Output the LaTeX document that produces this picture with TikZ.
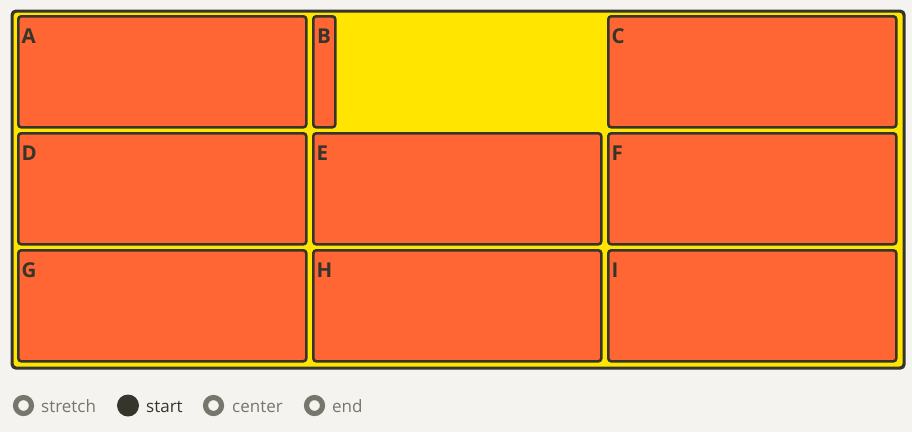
\documentclass[tikz,border=0pt]{standalone}
\usepackage{fontspec}
\setmainfont{Open Sans}
\usetikzlibrary{positioning}
\definecolor{page}{HTML}{F4F3EF}
\definecolor{gridbg}{HTML}{FFE500}
\definecolor{item}{HTML}{FF6633}
\definecolor{ink}{HTML}{36352B}
\definecolor{muted}{HTML}{77766C}

\begin{document}
\begin{tikzpicture}[x=1pt,y=-1pt,
  cell/.style={rectangle,draw=ink,fill=item,line width=2.6pt,rounded corners=3pt,
    inner sep=0pt,anchor=north west,minimum width=288pt,minimum height=111pt},
  letter/.style={font=\bfseries\fontsize{20.5}{24}\selectfont,text=ink,inner sep=0pt,anchor=base west},
  radio/.style={circle,draw=muted,line width=5.2pt,inner sep=0pt,minimum size=16pt},
  picked/.style={circle,fill=ink,inner sep=0pt,minimum size=22pt},
  choice/.style={font=\fontsize{17}{20}\selectfont,text=muted,inner sep=0pt,anchor=base west}]
  \fill[page] (0,0) rectangle (912,432);
  \useasboundingbox (0,0) rectangle (912,432);

  % grid container
  \node[rectangle,draw=ink,fill=gridbg,line width=3.2pt,rounded corners=4pt,inner sep=0pt,
    anchor=north west,minimum width=892pt,minimum height=357pt] (grid) at (10.5,9.5) {};

  % items
  \foreach \name/\x/\y in {A/17/15,C/607/15,D/17/132,E/312/132,F/607/132,G/17/249,H/312/249,I/607/249} {
    \node[cell] (\name) at (\x,\y) {};
    \node[letter] at ([xshift=4.5pt,yshift=-28pt]\name.north west) {\name};
  }
  \node[cell,minimum width=22pt] (B) at (312,15) {};
  \node[letter] at ([xshift=5pt,yshift=-28pt]B.north west) {B};

  % align options
  \node[radio] (stretch) at (23.5,405.5) {};
  \node[choice] at (41,412) {stretch};
  \node[picked] (start) at (128,405.5) {};
  \node[choice,text=ink] at (146,412) {start};
  \node[radio] (center) at (213.5,405.5) {};
  \node[choice] at (232,412) {center};
  \node[radio] (end) at (314.5,405.5) {};
  \node[choice] at (332,412) {end};
\end{tikzpicture}
\end{document}
